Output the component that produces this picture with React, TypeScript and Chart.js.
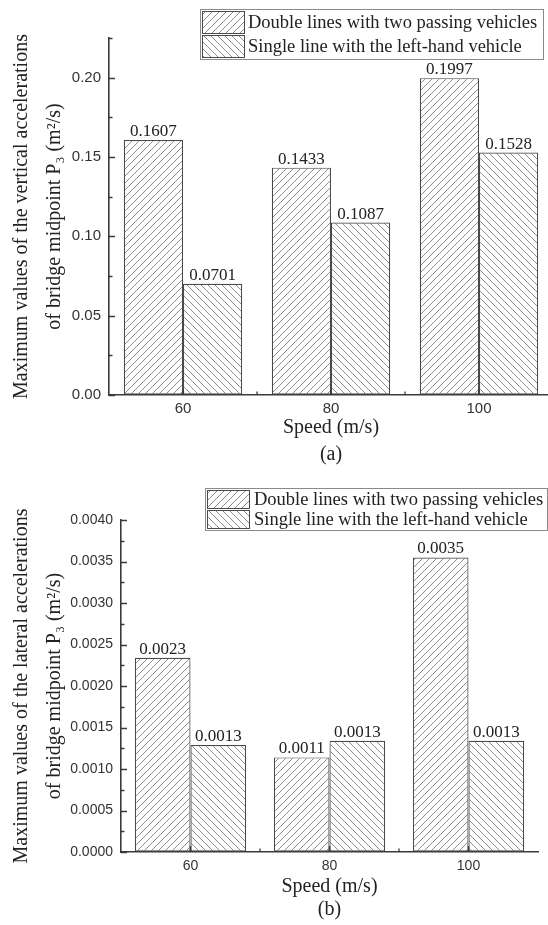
import React, { useEffect, useRef } from 'react';
import { Chart, registerables } from 'chart.js';

Chart.register(...registerables);

// Speeds on the category axis
const speeds = ['60', '80', '100'];
const seriesNames = [
  'Double lines with two passing vehicles',
  'Single line with the left-hand vehicle',
];

// (a) vertical accelerations at the bridge midpoint
const verticalDouble = [0.1607, 0.1433, 0.1997];
const verticalSingle = [0.0701, 0.1087, 0.1528];

// (b) lateral accelerations at the bridge midpoint
const lateralDouble = [0.00234, 0.00114, 0.003549];
const lateralSingle = [0.00129, 0.00134, 0.00134];

const SERIF = '"Liberation Serif", "Times New Roman", serif';
const SANS = '"Liberation Sans", Arial, sans-serif';
const AXIS = '#3a3a3a';
const TEXT = '#222';

type LegendBox = {
  x: number; y: number; w: number; h: number;
  swatchX: number; swatchW: number;
  rows: { y: number; h: number }[];
  textX: number; fontSize: number;
};

type PanelSpec = {
  top: number; width: number; height: number;
  padTop: number; padRight: number;
  yAxisWidth: number; xAxisHeight: number;
  yMax: number; yStep: number; yMinor: number; yDecimals: number;
  yTitle: string[]; yTitleLine: number; yTitlePad: number;
  tickFont: number; xTickPad: number; yTickPad: number;
  xTitle: string[]; xTitleLine: number; xTitlePadBottom: number;
  legend: LegendBox;
  double: number[]; single: number[];
};

function makeHatch(ctx: CanvasRenderingContext2D, rising: boolean, size: number) {
  const c = document.createElement('canvas');
  c.width = size;
  c.height = size;
  const g = c.getContext('2d')!;
  g.fillStyle = '#ffffff';
  g.fillRect(0, 0, size, size);
  g.strokeStyle = '#8c8c8c';
  g.lineWidth = 1;
  g.beginPath();
  if (rising) {
    g.moveTo(-1, size + 1); g.lineTo(size + 1, -1);
    g.moveTo(-1, 1); g.lineTo(1, -1);
    g.moveTo(size - 1, size + 1); g.lineTo(size + 1, size - 1);
  } else {
    g.moveTo(-1, -1); g.lineTo(size + 1, size + 1);
    g.moveTo(size - 1, -1); g.lineTo(size + 1, 1);
    g.moveTo(-1, size - 1); g.lineTo(1, size + 1);
  }
  g.stroke();
  return ctx.createPattern(c, 'repeat')!;
}

const panels: PanelSpec[] = [
  {
    top: 0, width: 556, height: 470,
    padTop: 38, padRight: 3,
    yAxisWidth: 109, xAxisHeight: 75,
    yMax: 0.225, yStep: 0.05, yMinor: 0.025, yDecimals: 2,
    yTitle: ['Maximum values of the vertical accelerations', 'of bridge midpoint P\u2083 (m\u00b2/s)'],
    yTitleLine: 33, yTitlePad: 5,
    tickFont: 15, xTickPad: 5, yTickPad: 8,
    xTitle: ['Speed (m/s)', '(a)'], xTitleLine: 27, xTitlePadBottom: 2,
    legend: {
      x: 200, y: 9, w: 343, h: 50, swatchX: 202, swatchW: 42,
      rows: [{ y: 11, h: 22 }, { y: 35, h: 22 }], textX: 248, fontSize: 18.5,
    },
    double: verticalDouble, single: verticalSingle,
  },
  {
    top: 470, width: 548, height: 455,
    padTop: 50, padRight: 10,
    yAxisWidth: 121, xAxisHeight: 73,
    yMax: 0.004, yStep: 0.0005, yMinor: 0.00025, yDecimals: 4,
    yTitle: ['Maximum values of the lateral accelerations', 'of bridge midpoint P\u2083 (m\u00b2/s)'],
    yTitleLine: 33, yTitlePad: 5,
    tickFont: 14, xTickPad: 6, yTickPad: 8,
    xTitle: ['Speed (m/s)', '(b)'], xTitleLine: 23, xTitlePadBottom: 3.5,
    legend: {
      x: 205, y: 18, w: 342, h: 42, swatchX: 207, swatchW: 42,
      rows: [{ y: 20, h: 18 }, { y: 40, h: 18 }], textX: 254, fontSize: 18.5,
    },
    double: lateralDouble, single: lateralSingle,
  },
];

function Panel({ spec }: { spec: PanelSpec }) {
  const ref = useRef<HTMLCanvasElement | null>(null);

  useEffect(() => {
    const canvas = ref.current!;
    const ctx = canvas.getContext('2d')!;
    const rising = makeHatch(ctx, true, 7);
    const falling = makeHatch(ctx, false, 7);

    // value written above each bar
    const valueLabels = {
      id: 'valueLabels',
      afterDatasetsDraw(chart: any) {
        const c = chart.ctx;
        c.save();
        c.font = `17px ${SERIF}`;
        c.fillStyle = TEXT;
        c.textAlign = 'center';
        c.textBaseline = 'alphabetic';
        chart.data.datasets.forEach((ds: any, i: number) => {
          chart.getDatasetMeta(i).data.forEach((el: any, j: number) => {
            c.fillText(Number(ds.data[j]).toFixed(4), el.x, el.y - 4);
          });
        });
        c.restore();
      },
    };

    // inward major/minor tick marks on both axes
    const tickMarks = {
      id: 'tickMarks',
      afterDraw(chart: any) {
        const c = chart.ctx;
        const y = chart.scales.y;
        const x = chart.scales.x;
        const area = chart.chartArea;
        c.save();
        c.strokeStyle = AXIS;
        c.lineWidth = 1.3;
        c.beginPath();
        const n = Math.round(spec.yMax / spec.yMinor);
        for (let k = 0; k <= n; k++) {
          const py = Math.round(y.getPixelForValue(k * spec.yMinor)) + 0.5;
          const major = Math.abs((k * spec.yMinor) / spec.yStep - Math.round((k * spec.yMinor) / spec.yStep)) < 1e-6;
          c.moveTo(area.left, py);
          c.lineTo(area.left + (major ? 6 : 3.5), py);
        }
        const count = speeds.length;
        for (let k = 0; k < count; k++) {
          const px = x.getPixelForValue(k);
          c.moveTo(px, area.bottom);
          c.lineTo(px, area.bottom - 6);
          if (k < count - 1) {
            const mid = (px + x.getPixelForValue(k + 1)) / 2;
            c.moveTo(mid, area.bottom);
            c.lineTo(mid, area.bottom - 3.5);
          }
        }
        c.stroke();
        c.restore();
      },
    };

    // boxed legend overlapping the top of the plot
    const boxedLegend = {
      id: 'boxedLegend',
      afterDraw(chart: any) {
        const c = chart.ctx;
        const L = spec.legend;
        c.save();
        c.fillStyle = '#ffffff';
        c.fillRect(L.x, L.y, L.w, L.h);
        c.strokeStyle = '#8a8a8a';
        c.lineWidth = 1;
        c.strokeRect(L.x + 0.5, L.y + 0.5, L.w, L.h);
        chart.data.datasets.forEach((ds: any, i: number) => {
          const r = L.rows[i];
          c.fillStyle = ds.backgroundColor;
          c.fillRect(L.swatchX, r.y, L.swatchW, r.h);
          c.strokeStyle = '#4a4a4a';
          c.lineWidth = 1;
          c.strokeRect(L.swatchX + 0.5, r.y + 0.5, L.swatchW, r.h);
          c.fillStyle = TEXT;
          c.font = `${L.fontSize}px ${SERIF}`;
          c.textAlign = 'left';
          c.textBaseline = 'middle';
          c.fillText(ds.label, L.textX, r.y + r.h / 2 + 1);
        });
        c.restore();
      },
    };

    const chart = new Chart(canvas, {
      type: 'bar',
      data: {
        labels: speeds,
        datasets: [
          {
            label: seriesNames[0],
            data: spec.double,
            backgroundColor: rising as any,
            borderColor: '#4a4a4a',
            borderWidth: 1.2,
            borderSkipped: false,
          },
          {
            label: seriesNames[1],
            data: spec.single,
            backgroundColor: falling as any,
            borderColor: '#4a4a4a',
            borderWidth: 1.2,
            borderSkipped: false,
          },
        ],
      },
      options: {
        responsive: false,
        animation: false,
        devicePixelRatio: 1,
        layout: { padding: { top: spec.padTop, right: spec.padRight, left: 0, bottom: 0 } },
        datasets: { bar: { categoryPercentage: 0.8, barPercentage: 1 } },
        plugins: {
          legend: { display: false },
          tooltip: { enabled: false },
          title: { display: false },
        },
        scales: {
          x: {
            type: 'category',
            offset: true,
            grid: { display: true, drawOnChartArea: false, drawTicks: false },
            border: { display: true, color: AXIS, width: 1.6 },
            ticks: { color: '#333', font: { family: SANS, size: spec.tickFont }, padding: spec.xTickPad },
            title: {
              display: true,
              text: spec.xTitle,
              color: TEXT,
              font: { family: SERIF, size: 20, lineHeight: spec.xTitleLine / 20 },
              padding: { top: 0, bottom: spec.xTitlePadBottom },
            },
            afterFit(scale: any) { scale.height = spec.xAxisHeight; },
          },
          y: {
            type: 'linear',
            min: 0,
            max: spec.yMax,
            grid: { display: true, drawOnChartArea: false, drawTicks: false },
            border: { display: true, color: AXIS, width: 1.6 },
            ticks: {
              stepSize: spec.yStep,
              color: '#333',
              font: { family: SANS, size: spec.tickFont },
              padding: spec.yTickPad,
              callback(value: any) {
                const v = Number(value);
                const q = v / spec.yStep;
                if (Math.abs(q - Math.round(q)) > 1e-6) return '';
                return v.toFixed(spec.yDecimals);
              },
            },
            title: {
              display: true,
              text: spec.yTitle,
              color: TEXT,
              font: { family: SERIF, size: 20, lineHeight: spec.yTitleLine / 20 },
              padding: { top: spec.yTitlePad, bottom: 0 },
            },
            afterFit(scale: any) { scale.width = spec.yAxisWidth; },
          },
        },
      },
      plugins: [valueLabels, tickMarks, boxedLegend],
    });
    return () => chart.destroy();
  }, [spec]);

  return (
    <div style={{ position: 'absolute', left: 0, top: spec.top, width: spec.width, height: spec.height }}>
      <canvas ref={ref} width={spec.width} height={spec.height} style={{ display: 'block' }} />
    </div>
  );
}

export default function App() {
  return (
    <div
      style={{
        position: 'absolute',
        left: 0,
        top: 0,
        width: 548,
        height: 925,
        overflow: 'hidden',
        background: '#ffffff',
      }}
    >
      {panels.map((p, i) => (
        <Panel key={i} spec={p} />
      ))}
    </div>
  );
}
